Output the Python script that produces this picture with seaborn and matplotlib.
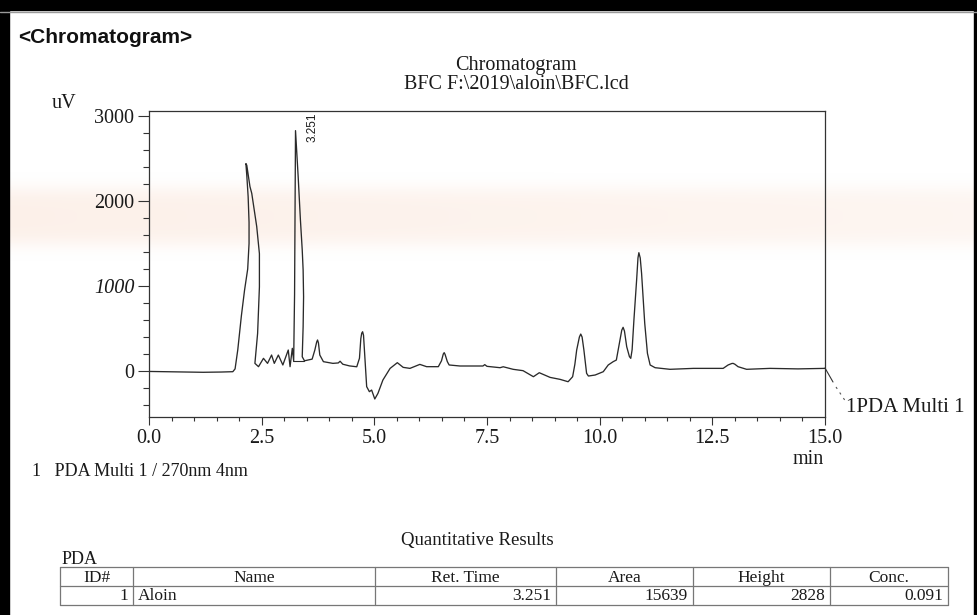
import numpy as np
import matplotlib
matplotlib.use("Agg")
import matplotlib.pyplot as plt
from matplotlib.patches import Rectangle
from matplotlib.ticker import MultipleLocator
import seaborn as sns

# Detector trace (PDA Multi 1, 270 nm): retention time in min, signal in uV
time_min = [
    0.00, 0.40, 0.80, 1.20, 1.60, 1.86, 1.91, 1.97, 2.05, 2.12, 2.19, 2.22, 2.22,
    2.20, 2.17, 2.15, 2.17, 2.24, 2.28, 2.39, 2.45, 2.45, 2.43, 2.41, 2.37, 2.35,
    2.43, 2.54, 2.63, 2.72, 2.78, 2.87, 2.97, 3.09, 3.13, 3.18, 3.21, 3.23, 3.251,
    3.31, 3.36, 3.40, 3.42, 3.43, 3.42, 3.40, 3.45, 3.62, 3.68, 3.72, 3.74, 3.76,
    3.79, 3.87, 4.08, 4.20, 4.24, 4.30, 4.45, 4.61, 4.67, 4.70, 4.72, 4.74, 4.76,
    4.78, 4.80, 4.83, 4.89, 4.94, 5.01, 5.08, 5.19, 5.35, 5.51, 5.64, 5.79, 6.01,
    6.16, 6.42, 6.49, 6.53, 6.55, 6.57, 6.62, 6.66, 6.90, 7.41, 7.45, 7.50, 7.79,
    7.86, 8.08, 8.30, 8.53, 8.66, 8.90, 9.12, 9.30, 9.40, 9.45, 9.49, 9.55, 9.58,
    9.61, 9.65, 9.71, 9.75, 9.90, 10.08, 10.19, 10.30, 10.37, 10.45, 10.49, 10.52,
    10.55, 10.60, 10.66, 10.69, 10.72, 10.76, 10.82, 10.85, 10.87, 10.90, 10.93,
    11.00, 11.06, 11.12, 11.23, 11.56, 12.08, 12.74, 12.85, 12.93, 12.96, 13.00,
    13.07, 13.26, 13.78, 14.40, 15.00,
]
signal_uv = [
    -5, -8, -12, -15, -12, -8, 25, 250, 650, 950, 1200, 1500, 1750,
    2050, 2300, 2440, 2420, 2170, 2090, 1700, 1380, 990, 700, 443, 208, 90,
    51, 149, 90, 188, 90, 188, 71, 247, 51, 267, 120, 900, 2828,
    2286, 1776, 1424, 1188, 874, 521, 168, 120, 140, 247, 340, 365, 330,
    188, 110, 90, 95, 115, 80, 60, 50, 150, 380, 445, 462, 420,
    250, 60, -184, -243, -224, -329, -263, -106, 31, 98, 43, 31, 78,
    51, 51, 120, 200, 216, 195, 110, 71, 59, 59, 75, 55, 39,
    50, 20, 4, -67, -20, -75, -98, -126, -67, 80, 247, 400, 435,
    400, 247, -27, -59, -47, -8, 71, 110, 129, 365, 480, 514,
    470, 286, 170, 149, 250, 600, 1071, 1330, 1392, 1330, 1149,
    561, 208, 71, 39, 20, 31, 31, 71, 88, 90, 80,
    51, 20, 31, 25, 31,
]

# Integration baseline under the quantified peak
peak_base_time = [3.20, 3.44]
peak_base_signal = [120, 120]

peak_label = "3.251"
peak_rt = 3.251
peak_height = 2828

x_ticks = [0.0, 2.5, 5.0, 7.5, 10.0, 12.5, 15.0]
y_ticks = [0, 1000, 2000, 3000]

table_columns = ["ID#", "Name", "Ret. Time", "Area", "Height", "Conc."]
table_values = ["1", "Aloin", "3.251", "15639", "2828", "0.091"]

sns.set_theme(style="white")
plt.rcParams["font.family"] = ["Liberation Serif", "DejaVu Serif"]
plt.rcParams["axes.unicode_minus"] = False

INK = "#1a1a1a"
W, H = 977, 615
fig = plt.figure(figsize=(W / 100, H / 100), dpi=100)
fig.patch.set_facecolor("white")

# Page layer in pixel coordinates (y grows downwards)
page = fig.add_axes([0, 0, 1, 1], zorder=-5)
page.set_xlim(0, W)
page.set_ylim(H, 0)
page.set_axis_off()

# Faint peach light band across the sheet
yy = np.arange(H)[:, None]
xx = np.arange(W)[None, :]
band = np.exp(-((yy - 216) / 30.0) ** 4) * (1.0 - 0.35 * xx / W)
rgba = np.zeros((H, W, 4))
rgba[..., 0] = 250 / 255
rgba[..., 1] = 226 / 255
rgba[..., 2] = 212 / 255
rgba[..., 3] = 0.5 * band
page.imshow(rgba, extent=[0, W, H, 0], aspect="auto", interpolation="bilinear", zorder=0)

# Sheet frame
page.add_patch(Rectangle((0, 0), W, 10, color="black", zorder=3))
page.add_patch(Rectangle((0, 0), 9, H, color="black", zorder=3))
page.add_patch(Rectangle((974, 0), 3, H, color="black", zorder=3))
page.plot([0, W], [12, 12], color="#9a9a9a", lw=1.0, zorder=3)

# Chromatogram axes
ax = fig.add_axes([149 / W, 1 - 417 / H, (825 - 149) / W, (417 - 111) / H])
ax.patch.set_alpha(0)
sns.lineplot(x=time_min, y=signal_uv, sort=False, estimator=None,
             color="#2a2a2a", linewidth=0.95, ax=ax)
ax.plot(peak_base_time, peak_base_signal, color="#2a2a2a", lw=0.8)

ax.set_xlim(0, 15)
ax.set_ylim(-541, 3059)
ax.set_xticks(x_ticks)
ax.set_xticklabels([f"{v:.1f}" for v in x_ticks])
ax.set_yticks(y_ticks)
ylabels = ax.set_yticklabels([str(v) for v in y_ticks])
ylabels[1].set_fontstyle("italic")
ax.xaxis.set_minor_locator(MultipleLocator(0.5))
ax.yaxis.set_minor_locator(MultipleLocator(200))
ax.set_xlabel("")
ax.set_ylabel("")

ax.tick_params(axis="x", which="major", bottom=True, direction="out", length=6,
               width=0.8, pad=2.5, labelsize=14.5, color="#333333", labelcolor=INK)
ax.tick_params(axis="x", which="minor", bottom=True, direction="out", length=3,
               width=0.8, color="#333333")
ax.tick_params(axis="y", which="major", left=True, direction="out", length=8,
               width=0.8, pad=2.5, labelsize=14.5, color="#333333", labelcolor=INK)
ax.tick_params(axis="y", which="minor", left=True, direction="out", length=4.5,
               width=0.8, color="#333333")
for side, sp in ax.spines.items():
    sp.set_visible(True)
    sp.set_color("#333333")
    sp.set_linewidth(0.9)

ax.annotate(peak_label, xy=(peak_rt, peak_height), xytext=(12, 2.5),
            textcoords="offset points", rotation=90, ha="center", va="center",
            fontsize=8.5, family=["Liberation Sans", "DejaVu Sans"], color=INK)

# Headings and axis captions
page.text(18, 43, "<Chromatogram>", family=["Liberation Sans", "DejaVu Sans"],
          weight="bold", size=15, ha="left", va="baseline", color="#111111")
page.text(516, 75, "Chromatogram\nBFC F:\\2019\\aloin\\BFC.lcd", ha="center",
          va="center", multialignment="center", linespacing=0.95, size=14.5,
          color=INK)
page.text(52, 103, "uV", ha="left", va="center", size=14.5, color=INK)
page.text(808, 459, "min", ha="center", va="center", size=14.5, color=INK)

# Channel marker with its leader
page.plot([825, 833], [368, 382], color="#333333", lw=0.8)
page.plot([836, 846], [387, 402], color="#555555", lw=0.8, ls=(0, (2, 4)))
page.text(846, 408, "1PDA Multi 1", ha="left", va="center", size=15, color=INK)

page.text(32, 472, "1   PDA Multi 1 / 270nm 4nm", ha="left", va="center", size=13,
          color=INK)

# Quantitative results table
page.text(477, 541, "Quantitative Results", ha="center", va="center", size=13.5,
          color=INK)
page.text(62, 559, "PDA", ha="left", va="center", size=13, color=INK)

col_edges = [60, 133, 375, 556, 693, 830, 948]
row_edges = [567, 586, 605]
for yv in row_edges:
    page.plot([col_edges[0], col_edges[-1]], [yv, yv], color="#777777", lw=0.9)
for xv in col_edges:
    page.plot([xv, xv], [row_edges[0], row_edges[-1]], color="#777777", lw=0.9)

head_y = (row_edges[0] + row_edges[1]) / 2 + 1
row_y = (row_edges[1] + row_edges[2]) / 2 + 1
for i, name in enumerate(table_columns):
    cx = (col_edges[i] + col_edges[i + 1]) / 2
    page.text(cx, head_y, name, ha="center", va="center", size=12.5, color=INK)
for i, val in enumerate(table_values):
    if i == 1:
        page.text(col_edges[i] + 5, row_y, val, ha="left", va="center", size=12.5,
                  color=INK)
    else:
        page.text(col_edges[i + 1] - 5, row_y, val, ha="right", va="center", size=12.5,
                  color=INK)

fig.savefig("out.png", dpi=100)
